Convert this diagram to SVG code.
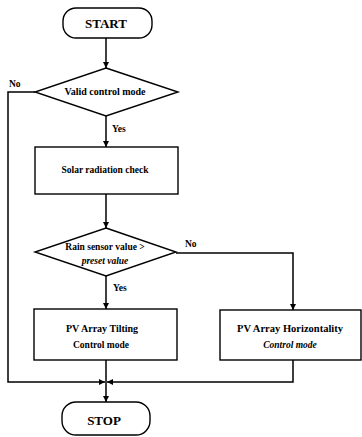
<svg xmlns="http://www.w3.org/2000/svg" width="362" height="437" viewBox="0 0 362 437">
  <defs>
    <marker id="arr" viewBox="0 0 10 10" refX="10" refY="5" markerWidth="6" markerHeight="6" markerUnits="userSpaceOnUse" orient="auto">
      <path d="M0,0 L10,5 L0,10 z" fill="#000"/>
    </marker>
    <style>
      .shape { fill: #fff; stroke: #000; stroke-width: 1.4; }
      .line { fill: none; stroke: #000; stroke-width: 1.5; }
      .t { font-family: "Liberation Serif", "Times New Roman", serif; font-weight: bold; font-size: 9.5px; fill: #000; }
      .c { text-anchor: middle; }
      .big { font-size: 13px; }
      .it { font-style: italic; }
    </style>
  </defs>
  <rect width="362" height="437" fill="#fff"/>

  <g id="connectors">
    <path class="line" d="M106,38 L106,68" marker-end="url(#arr)"/>
    <path class="line" d="M35,92 L8,92 L8,382 L105,382" marker-end="url(#arr)"/>
    <path class="line" d="M106,116 L106,147" marker-end="url(#arr)"/>
    <path class="line" d="M106,194 L106,228" marker-end="url(#arr)"/>
    <path class="line" d="M176,253 L293,253 L293,310" marker-end="url(#arr)"/>
    <path class="line" d="M106,276 L106,309" marker-end="url(#arr)"/>
    <path class="line" d="M106,360 L106,402" marker-end="url(#arr)"/>
    <path class="line" d="M293,360 L293,382 L107,382" marker-end="url(#arr)"/>
    <text class="t" x="9" y="87">No</text>
    <text class="t" x="112" y="132">Yes</text>
    <text class="t" x="185" y="247">No</text>
    <text class="t" x="113" y="291">Yes</text>
  </g>

  <g id="start">
    <rect class="shape" x="63" y="8" width="89" height="30" rx="13"/>
    <text class="t c big" x="106" y="28">START</text>
  </g>

  <g id="valid-control-mode">
    <polygon class="shape" points="106,68 178,92 106,116 35,92"/>
    <text class="t c" x="105" y="95" style="font-size:10px">Valid control mode</text>
  </g>

  <g id="solar-radiation-check">
    <rect class="shape" x="35" y="147" width="143" height="47"/>
    <text class="t c" x="105" y="173">Solar radiation check</text>
  </g>

  <g id="rain-sensor">
    <polygon class="shape" points="106,228 176,252 106,276 35,252"/>
    <text class="t c" x="105" y="250">Rain sensor value &gt;</text>
    <text class="t c it" x="105" y="264">preset value</text>
  </g>

  <g id="tilting">
    <rect class="shape" x="34" y="309" width="143" height="51"/>
    <text class="t c" x="102" y="332" style="font-size:10px">PV Array Tilting</text>
    <text class="t c" x="101" y="348">Control mode</text>
  </g>

  <g id="horizontality">
    <rect class="shape" x="220" y="310" width="141" height="50"/>
    <text class="t c" x="290" y="332" style="font-size:10.5px">PV Array Horizontality</text>
    <text class="t c it" x="290" y="348">Control mode</text>
  </g>

  <g id="stop">
    <rect class="shape" x="62" y="402" width="88" height="33" rx="14"/>
    <text class="t c big" x="104" y="425">STOP</text>
  </g>
</svg>
